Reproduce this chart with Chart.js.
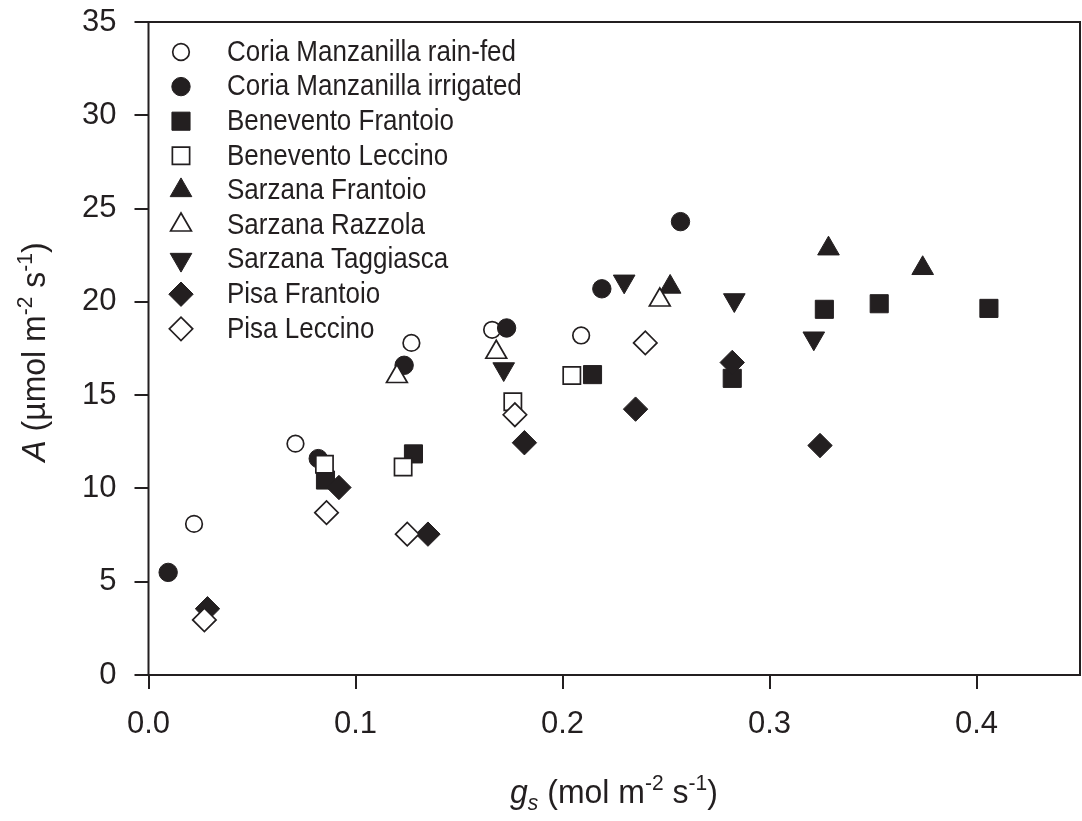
<!DOCTYPE html>
<html>
<head>
<meta charset="utf-8">
<script src="https://cdn.jsdelivr.net/npm/chart.js@4.4.0/dist/chart.umd.min.js"></script>
<style>
  html, body { margin: 0; padding: 0; background: #fff; }
  #wrap { width: 1082px; height: 821px; }
</style>
</head>
<body>
<div id="wrap"><canvas id="canvas" width="1082" height="821"></canvas></div>
<script>
// g_s (mol m-2 s-1), A (umol m-2 s-1) pairs
const coriaRainfed = [[0.022, 8.1], [0.071, 12.4], [0.127, 17.8], [0.166, 18.5], [0.209, 18.2]];
const coriaIrrigated = [[0.0095, 5.5], [0.082, 11.6], [0.1235, 16.6], [0.173, 18.6], [0.219, 20.7], [0.257, 24.3]];
const beneventoFrantoio = [[0.0855, 10.45], [0.128, 11.85], [0.2145, 16.1], [0.282, 15.9], [0.3265, 19.6], [0.353, 19.9], [0.406, 19.65]];
const beneventoLeccino = [[0.085, 11.3], [0.123, 11.15], [0.176, 14.65], [0.2045, 16.05]];
const sarzanaFrantoio = [[0.252, 20.8], [0.3285, 22.85], [0.374, 21.8]];
const sarzanaRazzola = [[0.120, 16.0], [0.168, 17.3], [0.247, 20.1]];
const sarzanaTaggiasca = [[0.1716, 16.4], [0.2298, 21.1], [0.283, 20.1], [0.3214, 18.05]];
const pisaFrantoio = [[0.0285, 3.55], [0.092, 10.05], [0.135, 7.55], [0.1816, 12.45], [0.2353, 14.25], [0.282, 16.75], [0.3244, 12.3]];
const pisaLeccino = [[0.027, 2.95], [0.086, 8.7], [0.125, 7.55], [0.177, 13.95], [0.240, 17.8]];

const seriesNames = ['Coria Manzanilla rain-fed', 'Coria Manzanilla irrigated', 'Benevento Frantoio',
  'Benevento Leccino', 'Sarzana Frantoio', 'Sarzana Razzola', 'Sarzana Taggiasca', 'Pisa Frantoio', 'Pisa Leccino'];
const seriesData = [coriaRainfed, coriaIrrigated, beneventoFrantoio, beneventoLeccino, sarzanaFrantoio,
  sarzanaRazzola, sarzanaTaggiasca, pisaFrantoio, pisaLeccino];

const xTicks = [0, 0.1, 0.2, 0.3, 0.4];
const yTicks = [0, 5, 10, 15, 20, 25, 30, 35];

const ink = '#231f20';
const fontFam = "'Liberation Sans', Arial, Helvetica, sans-serif";

// marker look per series (same order as seriesNames)
const markers = [
  { style: 'circle', filled: false, r: 8.3, rot: 0 },
  { style: 'circle', filled: true, r: 9.2, rot: 0 },
  { style: 'rect', filled: true, r: 12.8, rot: 0 },
  { style: 'rect', filled: false, r: 12.2, rot: 0 },
  { style: 'triangle', filled: true, r: 12.5, rot: 0 },
  { style: 'triangle', filled: false, r: 12, rot: 0 },
  { style: 'triangle', filled: true, r: 12.5, rot: 180 },
  { style: 'rectRot', filled: true, r: 12.2, rot: 0 },
  { style: 'rectRot', filled: false, r: 11.7, rot: 0 }
];

const datasets = seriesNames.map((name, i) => ({
  label: name,
  data: seriesData[i].map(p => ({ x: p[0], y: p[1] })),
  pointStyle: markers[i].style,
  pointRadius: markers[i].r,
  pointHoverRadius: markers[i].r,
  pointRotation: markers[i].rot,
  pointBackgroundColor: markers[i].filled ? ink : '#ffffff',
  pointBorderColor: ink,
  pointBorderWidth: markers[i].filled ? 1 : 1.7,
  showLine: false,
  order: seriesNames.length - i   // later series drawn on top
}));

// draw a string made of pieces (normal / italic / superscript / subscript)
function drawRich(ctx, parts, size) {
  const fonts = {
    n: { font: size + 'px ' + fontFam, dy: 0 },
    i: { font: 'italic ' + size + 'px ' + fontFam, dy: 0 },
    sup: { font: Math.round(size * 0.66) + 'px ' + fontFam, dy: -size * 0.4 },
    sub: { font: 'italic ' + Math.round(size * 0.66) + 'px ' + fontFam, dy: size * 0.22 }
  };
  let total = 0;
  parts.forEach(p => { ctx.font = fonts[p[1]].font; total += ctx.measureText(p[0]).width; });
  let x = -total / 2;
  parts.forEach(p => {
    ctx.font = fonts[p[1]].font;
    ctx.fillText(p[0], x, fonts[p[1]].dy);
    x += ctx.measureText(p[0]).width;
  });
}

const framePlugin = {
  id: 'frame',
  afterDraw(chart) {
    const ctx = chart.ctx;
    const a = chart.chartArea;
    ctx.save();
    // box round the plot
    ctx.strokeStyle = ink;
    ctx.lineWidth = 2;
    ctx.strokeRect(a.left, a.top, a.right - a.left, a.bottom - a.top);

    // legend inside the plot
    const drawPoint = Chart.helpers.drawPoint;
    seriesNames.forEach((name, i) => {
      const y = 52 + i * 34.6;
      const m = markers[i];
      ctx.fillStyle = m.filled ? ink : '#ffffff';
      ctx.strokeStyle = ink;
      ctx.lineWidth = m.filled ? 1 : 1.7;
      drawPoint(ctx, { pointStyle: m.style, radius: m.r, rotation: m.rot, borderWidth: ctx.lineWidth }, 181, y);
      ctx.save();
      ctx.translate(227, y + 1);
      ctx.scale(1, 1.1);
      ctx.fillStyle = ink;
      ctx.font = '26px ' + fontFam;
      ctx.textBaseline = 'middle';
      ctx.textAlign = 'left';
      ctx.fillText(name, 0, 0);
      ctx.restore();
    });

    // axis titles
    ctx.fillStyle = ink;
    ctx.textBaseline = 'alphabetic';
    ctx.textAlign = 'left';
    ctx.save();
    ctx.translate(614, 803);
    ctx.scale(1, 1.05);
    drawRich(ctx, [['g', 'i'], ['s', 'sub'], [' (mol m', 'n'], ['-2', 'sup'], [' s', 'n'], ['-1', 'sup'], [')', 'n']], 32);
    ctx.restore();
    ctx.save();
    ctx.translate(45, 352);
    ctx.rotate(-Math.PI / 2);
    ctx.scale(1, 1.05);
    drawRich(ctx, [['A', 'i'], [' (\u00b5mol m', 'n'], ['-2', 'sup'], [' s', 'n'], ['-1', 'sup'], [')', 'n']], 32);
    ctx.restore();
    ctx.restore();
  }
};

const ctx = document.getElementById('canvas');
new Chart(ctx, {
  type: 'scatter',
  data: { datasets: datasets },
  options: {
    responsive: false,
    animation: false,
    events: [],
    layout: { autoPadding: false, padding: { left: 0, right: 2, top: 22, bottom: 0 } },
    plugins: { legend: { display: false }, tooltip: { enabled: false } },
    scales: {
      x: {
        type: 'linear',
        min: 0,
        max: 0.45,
        afterFit: s => { s.height = 146; s.paddingLeft = 0; s.paddingRight = 0; },
        afterBuildTicks: s => { s.ticks = xTicks.map(v => ({ value: v })); },
        ticks: {
          color: ink,
          padding: 17,
          maxRotation: 0,
          font: { family: fontFam, size: 31 },
          callback: v => v.toFixed(1)
        },
        grid: { drawOnChartArea: false, drawTicks: true, tickLength: 14, color: ink, lineWidth: 2 },
        border: { display: false }
      },
      y: {
        type: 'linear',
        min: 0,
        max: 35,
        afterFit: s => { s.width = 148.5; s.paddingTop = 0; s.paddingBottom = 0; },
        afterBuildTicks: s => { s.ticks = yTicks.map(v => ({ value: v })); },
        ticks: {
          color: ink,
          padding: 18,
          font: { family: fontFam, size: 31 },
          callback: v => String(v)
        },
        grid: { drawOnChartArea: false, drawTicks: true, tickLength: 14, color: ink, lineWidth: 2 },
        border: { display: false }
      }
    }
  },
  plugins: [framePlugin]
});
</script>
</body>
</html>
